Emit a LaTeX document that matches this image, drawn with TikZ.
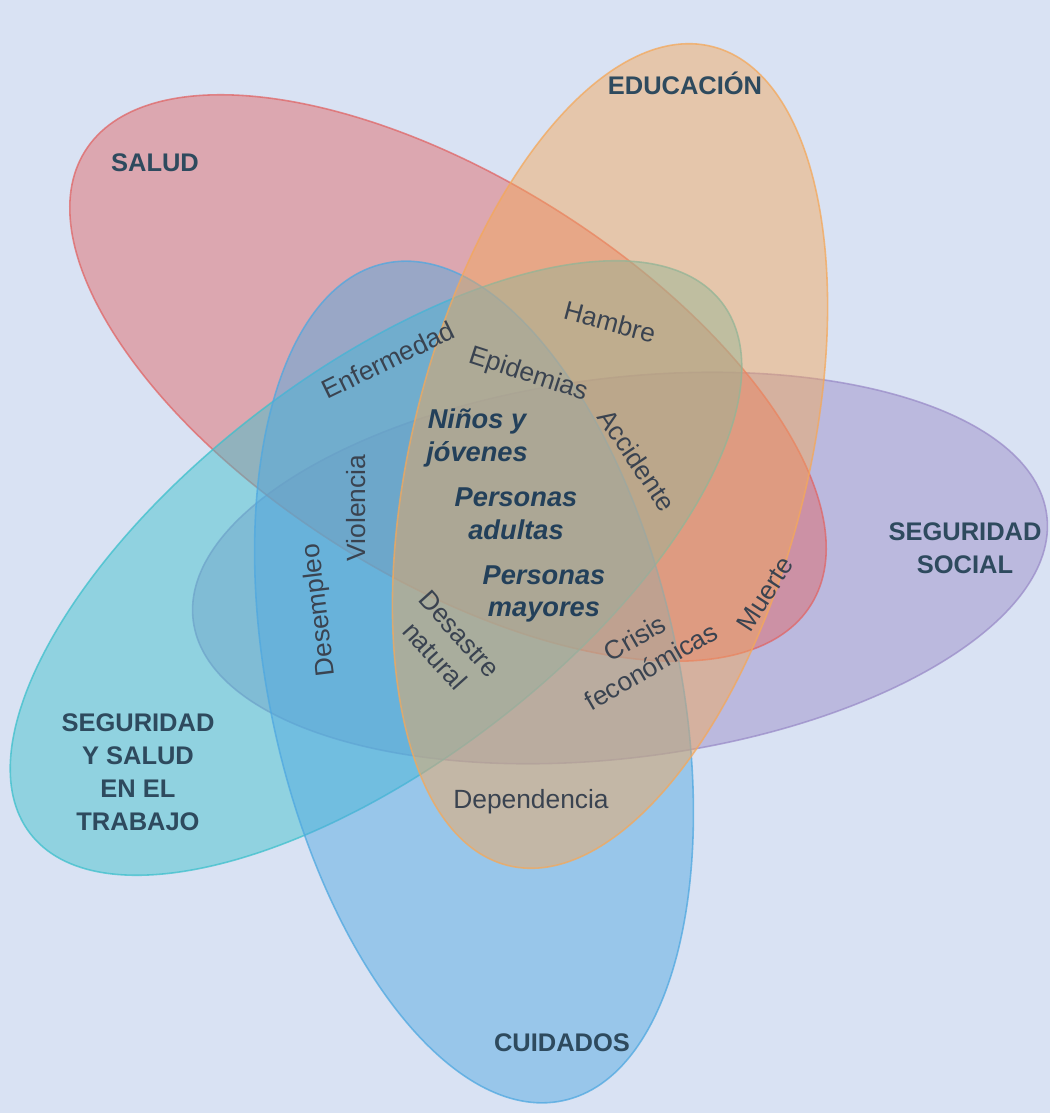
\documentclass[tikz,border=0pt]{standalone}
\usepackage{fontspec}
\setmainfont{Liberation Sans}
\usepackage{tikz}

\definecolor{bgblue}{HTML}{D9E2F3}
\definecolor{saludred}{HTML}{E06666}
\definecolor{educorange}{HTML}{F4A85A}
\definecolor{trabteal}{HTML}{3EC0CC}
\definecolor{cuidblue}{HTML}{4FA8E0}
\definecolor{socpurple}{HTML}{9A8CC8}
\definecolor{titletext}{HTML}{2E4A5E}
\definecolor{innertext}{HTML}{3A4350}
\definecolor{centertext}{HTML}{23405A}

\begin{document}
\begin{tikzpicture}[x=0.2mm, y=-0.2mm,
  petal/.style={fill=#1, fill opacity=0.47, draw=#1, draw opacity=0.75, line width=0.9pt},
  title/.style={text=titletext, font=\fontsize{14.5}{18.7}\selectfont\bfseries, align=center, inner sep=0pt},
  inlabel/.style={text=innertext, font=\fontsize{15}{18.7}\selectfont, align=center, inner sep=0pt},
  group/.style={text=centertext, font=\fontsize{15.5}{18.7}\selectfont\bfseries\itshape, align=center, inner sep=0pt}]
\useasboundingbox (0,0) rectangle (1050,1113);
\fill[bgblue] (0,0) rectangle (1050,1113);

% the five ellipses
\path[petal=socpurple, shift={(620,568)}, rotate=7] (0,0) ellipse [x radius=430, y radius=190];
\path[petal=saludred, shift={(448,378)}, rotate=-32] (0,0) ellipse [x radius=428, y radius=200];
\path[petal=trabteal, shift={(376,568)}, rotate=37.5] (0,0) ellipse [x radius=436, y radius=195];
\path[petal=cuidblue, shift={(474,682)}, rotate=12] (0,0) ellipse [x radius=205, y radius=428];
\path[petal=educorange, shift={(610,456)}, rotate=-14] (0,0) ellipse [x radius=198, y radius=422];

% titles
\node[title] (salud) at (155,163) {SALUD};
\node[title] (educacion) at (685,83) {EDUCACIÓN};
\node[title] (social) at (965,548) {SEGURIDAD\\SOCIAL};
\node[title] (trabajo) at (138,772) {SEGURIDAD\\Y SALUD\\EN EL\\TRABAJO};
\node[title] (cuidados) at (562,1043) {CUIDADOS};

% risks
\node[inlabel, rotate=-15] (hambre) at (610,322) {Hambre};
\node[inlabel, rotate=26] (enfermedad) at (388,360) {Enfermedad};
\node[inlabel, rotate=-18] (epidemias) at (528,375) {Epidemias};
\node[inlabel, rotate=-56] (accidente) at (637,460) {Accidente};
\node[inlabel, rotate=90] (violencia) at (356,508) {Violencia};
\node[inlabel, rotate=97] (desempleo) at (320,610) {Desempleo};
\node[inlabel, rotate=-48] (desastre) at (447,645) {Desastre\\natural};
\node[inlabel, rotate=30] (crisis) at (643,652) {Crisis\\feconómicas};
\node[inlabel, rotate=57] (muerte) at (765,594) {Muerte};
\node[inlabel] (dependencia) at (531,802) {Dependencia};

% groups
\node[group] (ninos) at (477,438) {Niños y\\jóvenes};
\node[group] (adultas) at (516,514) {Personas\\adultas};
\node[group] (mayores) at (544,594) {Personas\\mayores};
\end{tikzpicture}
\end{document}
